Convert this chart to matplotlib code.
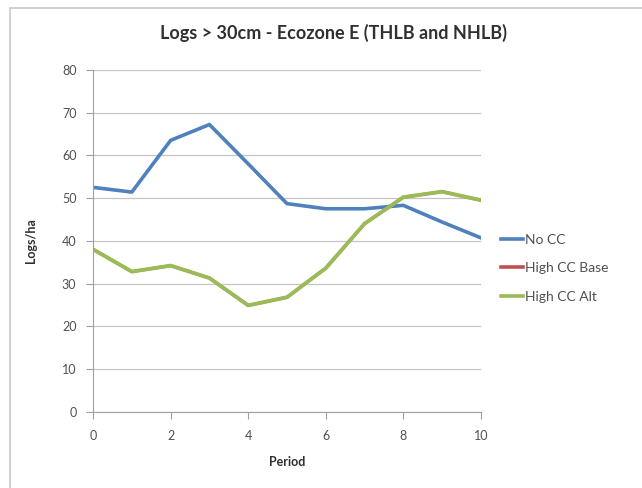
import matplotlib.pyplot as plt
from matplotlib.patches import Rectangle

periods = [0, 1, 2, 3, 4, 5, 6, 7, 8, 9, 10]
no_cc = [52.5, 51.4, 63.5, 67.2, 58.0, 48.7, 47.5, 47.5, 48.3, 44.4, 40.7]
high_cc_base = [38.0, 32.8, 34.2, 31.3, 24.9, 26.8, 33.6, 44.0, 50.2, 51.5, 49.5]
high_cc_alt = [38.0, 32.8, 34.2, 31.3, 24.9, 26.8, 33.6, 44.0, 50.2, 51.5, 49.5]

plt.rcParams['font.family'] = ['Lato', 'DejaVu Sans']

fig = plt.figure(figsize=(6.42, 4.88), dpi=100)
fig.patches.append(Rectangle((0.016, -0.01), 0.99, 0.994, transform=fig.transFigure,
                             fill=False, edgecolor='#c8c8c8', linewidth=1.2))
ax = fig.add_axes([0.145, 0.156, 0.604, 0.701])

ax.plot(periods, no_cc, color='#4F81BD', linewidth=2.6, label='No CC')
ax.plot(periods, high_cc_base, color='#C0504D', linewidth=2.2, label='High CC Base')
ax.plot(periods, high_cc_alt, color='#9BBB59', linewidth=2.8, label='High CC Alt')

ax.set_xlim(0, 10)
ax.set_ylim(0, 80)
ax.set_xticks(range(0, 11, 2))
ax.set_yticks(range(0, 81, 10))
ax.grid(axis='y', color='#c4c4c4', linewidth=0.9)
ax.set_axisbelow(True)
for s in ['top', 'right']:
    ax.spines[s].set_visible(False)
for s in ['left', 'bottom']:
    ax.spines[s].set_color('#a0a0a0')
ax.tick_params(colors='#a0a0a0', labelcolor='#505050', labelsize=9, length=5)
ax.tick_params(axis='x', pad=8)
ax.tick_params(axis='y', pad=7)

fig.text(0.519, 0.932, 'Logs > 30cm - Ecozone E (THLB and NHLB)', fontsize=13,
         fontweight='bold', ha='center', va='center', color='#303030')
ax.set_xlabel('Period', fontsize=9, fontweight='bold', labelpad=10, color='#303030')
ax.set_ylabel('Logs/ha', fontsize=9, fontweight='bold', labelpad=18, color='#303030')

leg = ax.legend(loc='center left', bbox_to_anchor=(1.02, 0.42), frameon=False, fontsize=10,
                handlelength=1.6, handletextpad=0.15, labelspacing=1.2, labelcolor='#505050')
for h in leg.legend_handles:
    h.set_linewidth(2.6)

plt.savefig('out.png', dpi=100)
